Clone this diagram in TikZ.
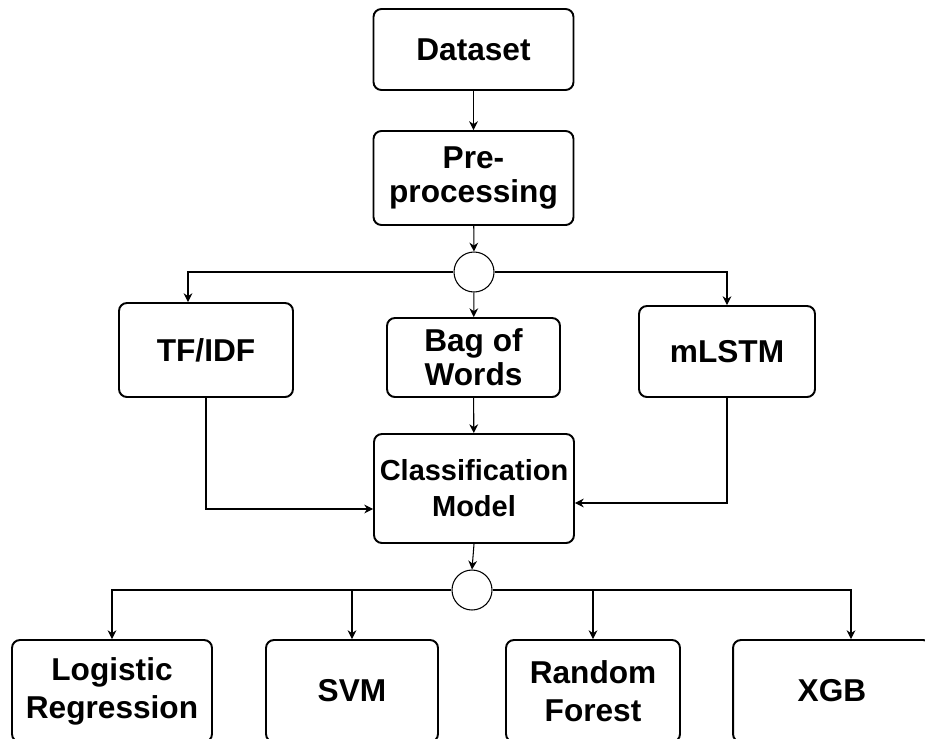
\documentclass[tikz,border=0pt]{standalone}
\usepackage{fontspec}
\setmainfont{Liberation Sans}
\usepackage{tikz}
\usetikzlibrary{arrows.meta}

\begin{document}
\begin{tikzpicture}[->,>={Stealth[length=5pt,width=5pt]},x=0.02cm,y=-0.02cm,
		line width=0.6pt]
		\tikzstyle{box}=[draw,rounded corners=4.5pt,line width=1.1pt,align=center,
			inner sep=0pt,font=\bfseries\fontsize{18}{19.5}\selectfont]
		\tikzstyle{leaf}=[box,minimum height=2.04cm,
			font=\bfseries\fontsize{18}{21.5}\selectfont]
		\tikzstyle{joint}=[draw,circle,minimum size=0.8cm,inner sep=0pt]
		\useasboundingbox (0,0) rectangle (925,738);

		\node[box,minimum width=4cm,minimum height=1.62cm] (ds) at (473.5,49.5) {Dataset};
		\node[box,minimum width=4cm,minimum height=1.88cm] (pre) at (473.5,178) {Pre-\\processing};
		\node[joint] (j1) at (474,272) {};
		\node[box,minimum width=3.48cm,minimum height=1.88cm] (tfidf) at (206,350) {TF/IDF};
		\node[box,minimum width=3.46cm,minimum height=1.58cm] (bow) at (473.5,357.5) {Bag of\\Words};
		\node[box,minimum width=3.52cm,minimum height=1.82cm] (mlstm) at (727,351.5) {mLSTM};
		\node[box,minimum width=4cm,minimum height=2.18cm,
			font=\bfseries\fontsize{16.5}{20.5}\selectfont] (cls) at (474,488.5) {Classification\\Model};
		\node[joint] (j2) at (472,590) {};
		\node[leaf,minimum width=4cm] (lr) at (112,691) {Logistic\\Regression};
		\node[leaf,minimum width=3.44cm] (svm) at (352,691) {SVM};
		\node[leaf,minimum width=3.48cm] (rf) at (593,691) {Random\\Forest};
		\node[leaf,minimum width=3.96cm] (xgb) at (832,691) {XGB};

		% upper part
		\draw (ds) -- (pre);
		\draw (pre) -- (j1);
		\draw (j1.west) -| ([xshift=-0.36cm]tfidf.north);
		\draw (j1) -- (bow);
		\draw (j1.east) -| (mlstm.north);

		% into the model
		\draw (tfidf.south) |- ([yshift=-0.41cm]cls.west);
		\draw (bow) -- (cls);
		\draw (mlstm.south) |- ([yshift=-0.29cm]cls.east);
		\draw (cls.south) -- (j2.north);

		% classifiers
		\draw (j2.west) -| (lr.north);
		\draw (j2.west) -| (svm.north);
		\draw (j2.east) -| (rf.north);
		\draw (j2.east) -| ([xshift=0.38cm]xgb.north);
\end{tikzpicture}
\end{document}
